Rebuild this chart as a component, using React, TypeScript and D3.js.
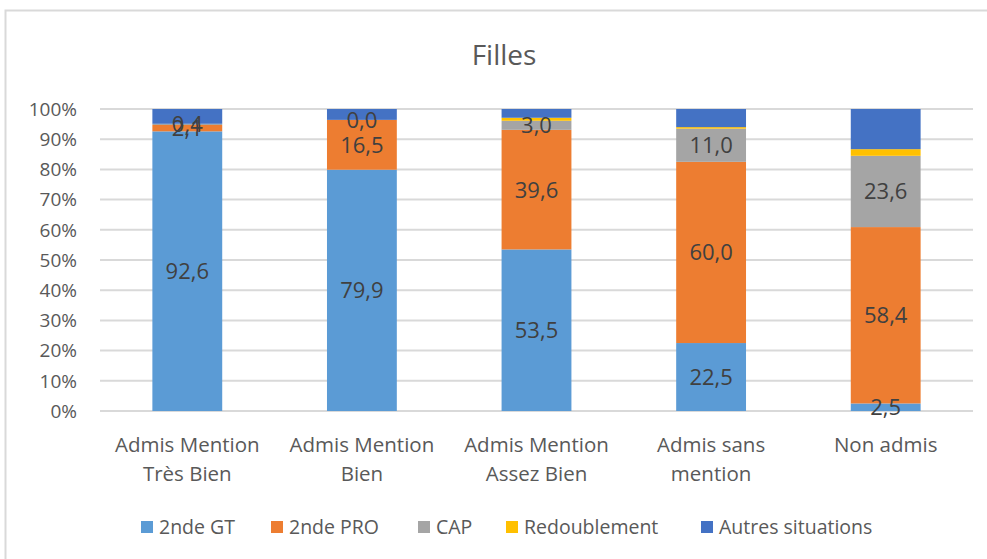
import React, { useRef, useEffect } from "react";
import * as d3 from "d3";

const categories = [
  "Admis Mention Très Bien",
  "Admis Mention Bien",
  "Admis Mention Assez Bien",
  "Admis sans mention",
  "Non admis",
];
const categoryLines = [
  ["Admis Mention", "Très Bien"],
  ["Admis Mention", "Bien"],
  ["Admis Mention", "Assez Bien"],
  ["Admis sans", "mention"],
  ["Non admis"],
];
const seriesNames = ["2nde GT", "2nde PRO", "CAP", "Redoublement", "Autres situations"];
const gt = [92.6, 79.9, 53.5, 22.5, 2.5];
const pro = [2.1, 16.5, 39.6, 60.0, 58.4];
const cap = [0.4, 0.0, 3.0, 11.0, 23.6];
const redoublement = [0.0, 0.0, 1.0, 0.5, 2.2];
const autres = [4.9, 3.6, 2.9, 6.0, 13.3];
const labelled = [true, true, true, false, false];
const yTicks = [0, 10, 20, 30, 40, 50, 60, 70, 80, 90, 100];

const colors = ["#5B9BD5", "#ED7D31", "#A5A5A5", "#FFC000", "#4472C4"];
const FONT = "'Open Sans', sans-serif";

const W = 987;
const H = 559;

const App = () => {
  const svgRef = useRef<SVGSVGElement | null>(null);

  useEffect(() => {
    const svg = d3.select(svgRef.current);
    svg.selectAll("*").remove();

    const margin = { top: 109, right: 14, bottom: 148, left: 100 };
    const innerWidth = W - margin.left - margin.right;
    const innerHeight = H - margin.top - margin.bottom;

    const rows = categories.map((c, i) => ({
      cat: c,
      s0: gt[i],
      s1: pro[i],
      s2: cap[i],
      s3: redoublement[i],
      s4: autres[i],
    }));
    const keys = ["s0", "s1", "s2", "s3", "s4"];
    const stacked = d3.stack<any>().keys(keys)(rows);

    const x = d3.scaleBand().domain(categories).range([0, innerWidth]).paddingInner(0.6).paddingOuter(0.3);
    const y = d3.scaleLinear().domain([0, 100]).range([innerHeight, 0]);

    // chart frame
    svg.append("rect")
      .attr("x", 5.5).attr("y", 10.5)
      .attr("width", W + 20).attr("height", H + 20)
      .attr("fill", "#fff").attr("stroke", "#d9d9d9").attr("stroke-width", 2);

    svg.append("text")
      .attr("x", 504).attr("y", 65)
      .attr("text-anchor", "middle")
      .style("font-family", FONT).style("font-size", "28px")
      .attr("fill", "#595959")
      .text("Filles");

    const g = svg.append("g").attr("transform", `translate(${margin.left},${margin.top})`);

    // gridlines + y labels
    g.selectAll(".grid")
      .data(yTicks)
      .enter()
      .append("line")
      .attr("x1", 0).attr("x2", innerWidth)
      .attr("y1", d => y(d)).attr("y2", d => y(d))
      .attr("stroke", "#d9d9d9").attr("stroke-width", 2);

    g.selectAll(".ytick")
      .data(yTicks)
      .enter()
      .append("text")
      .attr("x", -23).attr("y", d => y(d))
      .attr("dy", "0.36em")
      .attr("text-anchor", "end")
      .style("font-family", FONT).style("font-size", "19px")
      .attr("fill", "#595959")
      .text(d => d + "%");

    // bars
    const layers = g.selectAll(".layer")
      .data(stacked)
      .enter()
      .append("g")
      .attr("fill", (_d, i) => colors[i]);

    layers.selectAll("rect")
      .data(d => d)
      .enter()
      .append("rect")
      .attr("x", d => x(d.data.cat)!)
      .attr("width", x.bandwidth())
      .attr("y", d => y(d[1]))
      .attr("height", d => y(d[0]) - y(d[1]));

    // data labels
    stacked.forEach((layer, li) => {
      if (!labelled[li]) return;
      g.append("g")
        .selectAll("text")
        .data(layer)
        .enter()
        .append("text")
        .attr("x", d => x(d.data.cat)! + x.bandwidth() / 2)
        .attr("y", d => y((d[0] + d[1]) / 2))
        .attr("dy", "0.36em")
        .attr("text-anchor", "middle")
        .style("font-family", FONT).style("font-size", "22px")
        .attr("fill", "#404040")
        .text(d => (d[1] - d[0]).toFixed(1).replace(".", ","));
    });

    // category labels
    categories.forEach((c, i) => {
      const t = g.append("text")
        .attr("text-anchor", "middle")
        .style("font-family", FONT).style("font-size", "20.5px")
        .attr("fill", "#595959");
      categoryLines[i].forEach((line, j) => {
        t.append("tspan")
          .attr("x", x(c)! + x.bandwidth() / 2)
          .attr("y", innerHeight + 41 + j * 29)
          .text(line);
      });
    });

    // legend
    const legendX = [141, 271, 418, 506, 701];
    const legend = svg.append("g").attr("transform", "translate(0,527)");
    seriesNames.forEach((name, i) => {
      legend.append("rect")
        .attr("x", legendX[i]).attr("y", -6)
        .attr("width", 12).attr("height", 12)
        .attr("fill", colors[i]);
      legend.append("text")
        .attr("x", legendX[i] + 18).attr("y", 0)
        .attr("dy", "0.36em")
        .style("font-family", FONT).style("font-size", "19.5px")
        .attr("fill", "#595959")
        .text(name);
    });
  }, []);

  return (
    <svg ref={svgRef} width={W} height={H} style={{ position: "absolute", left: 0, top: 0 }} />
  );
};

export default App;
